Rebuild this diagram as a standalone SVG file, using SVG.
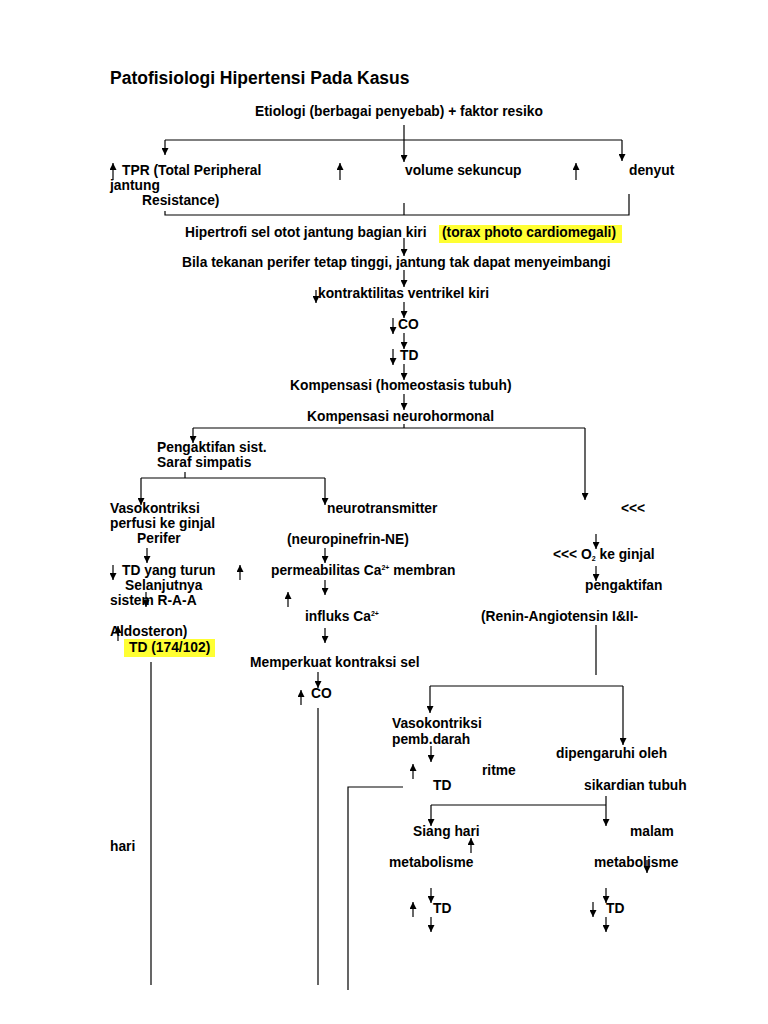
<svg xmlns="http://www.w3.org/2000/svg" width="768" height="1024" viewBox="0 0 768 1024">
<style>
text{font-family:"Liberation Sans",Arial,sans-serif;font-weight:bold;font-size:13.8px;fill:#000}
.t{font-size:17.5px}
line,polyline{stroke:#000;stroke-width:1.2;fill:none}
.a{marker-end:url(#ah)}
.hl{fill:#ffff33}
</style>
<defs><marker id="ah" viewBox="0 0 10 10" refX="10" refY="5" markerWidth="7" markerHeight="7" markerUnits="userSpaceOnUse" orient="auto"><path d="M0,0L10,5L0,10z" fill="#000"/></marker></defs>
<rect width="768" height="1024" fill="#fff"/>
<g id="highlights">
<rect class="hl" x="439" y="225" width="183" height="18"/>
<rect class="hl" x="124" y="639" width="91" height="18"/>
</g>
<g id="texts">
<text class="t" x="110" y="84">Patofisiologi Hipertensi Pada Kasus</text>
<text x="255" y="116">Etiologi (berbagai penyebab) + faktor resiko</text>
<text x="122" y="175">TPR (Total Peripheral</text>
<text x="110" y="190">jantung</text>
<text x="142" y="205">Resistance)</text>
<text x="405" y="175">volume sekuncup</text>
<text x="629" y="175">denyut</text>
<text x="185" y="237">Hipertrofi sel otot jantung bagian kiri</text>
<text x="442" y="237">(torax photo cardiomegali)</text>
<text x="182" y="267">Bila tekanan perifer tetap tinggi, jantung tak dapat menyeimbangi</text>
<text x="318" y="298">kontraktilitas ventrikel kiri</text>
<text x="398" y="329">CO</text>
<text x="400" y="360">TD</text>
<text x="290" y="390">Kompensasi (homeostasis tubuh)</text>
<text x="307" y="421">Kompensasi neurohormonal</text>
<text x="157" y="452">Pengaktifan sist.</text>
<text x="157" y="467">Saraf simpatis</text>
<text x="110" y="513">Vasokontriksi</text>
<text x="110" y="528">perfusi ke ginjal</text>
<text x="137" y="543">Perifer</text>
<text x="327" y="513">neurotransmitter</text>
<text x="287" y="544">(neuropinefrin-NE)</text>
<text x="621" y="513">&lt;&lt;&lt;</text>
<text x="553" y="559">&lt;&lt;&lt; O<tspan font-size="7" dy="2">2</tspan><tspan dy="-2"> ke ginjal</tspan></text>
<text x="122" y="575">TD yang turun</text>
<text x="271" y="575">permeabilitas Ca<tspan font-size="7" dy="-5">2+</tspan><tspan dy="5"> membran</tspan></text>
<text x="585" y="590">pengaktifan</text>
<text x="125" y="590">Selanjutnya</text>
<text x="110" y="605">sistem R-A-A</text>
<text x="305" y="621">influks Ca<tspan font-size="7" dy="-5">2+</tspan></text>
<text x="481" y="621">(Renin-Angiotensin I&amp;II-</text>
<text x="110" y="636">Aldosteron)</text>
<text x="129" y="652">TD (174/102)</text>
<text x="250" y="667">Memperkuat kontraksi sel</text>
<text x="311" y="698">CO</text>
<text x="392" y="728">Vasokontriksi</text>
<text x="392" y="744">pemb.darah</text>
<text x="556" y="758">dipengaruhi oleh</text>
<text x="482" y="775">ritme</text>
<text x="433" y="790">TD</text>
<text x="584" y="790">sikardian tubuh</text>
<text x="413" y="836">Siang hari</text>
<text x="630" y="836">malam</text>
<text x="110" y="851">hari</text>
<text x="389" y="867">metabolisme</text>
<text x="594" y="867">metabolisme</text>
<text x="433" y="913">TD</text>
<text x="606" y="913">TD</text>
</g>
<g id="connectors">
<line class="a" x1="404" y1="125" x2="404" y2="162"/>
<polyline points="165,140 622,140"/>
<line class="a" x1="165" y1="140" x2="165" y2="155"/>
<line class="a" x1="622" y1="140" x2="622" y2="161"/>
<polyline points="165,211 165,215 629,215 629,194"/>
<line x1="404" y1="203" x2="404" y2="215"/>
<line class="a" x1="404" y1="238" x2="404" y2="256"/>
<line class="a" x1="404" y1="270" x2="404" y2="287"/>
<line class="a" x1="404" y1="302" x2="404" y2="318"/>
<line class="a" x1="404" y1="333" x2="404" y2="349"/>
<line class="a" x1="404" y1="364" x2="404" y2="380"/>
<line class="a" x1="404" y1="394" x2="404" y2="410"/>
<polyline points="193,428 585,428"/>
<line x1="404" y1="424" x2="404" y2="428"/>
<line class="a" x1="193" y1="428" x2="193" y2="443"/>
<line class="a" x1="585" y1="428" x2="585" y2="500"/>
<polyline points="141,478 325,478"/>
<line x1="185" y1="472" x2="185" y2="478"/>
<line class="a" x1="141" y1="478" x2="141" y2="505"/>
<line class="a" x1="325" y1="478" x2="325" y2="505"/>
<line class="a" x1="147" y1="548" x2="147" y2="563"/>
<line class="a" x1="325" y1="548" x2="325" y2="563"/>
<line class="a" x1="596" y1="534" x2="596" y2="549"/>
<line class="a" x1="596" y1="566" x2="596" y2="581"/>
<line class="a" x1="325" y1="580" x2="325" y2="595"/>
<line class="a" x1="146" y1="592" x2="146" y2="607"/>
<line class="a" x1="325" y1="628" x2="325" y2="643"/>
<line x1="151" y1="662" x2="151" y2="985"/>
<line x1="596" y1="625" x2="596" y2="675"/>
<line class="a" x1="318" y1="672" x2="318" y2="688"/>
<line x1="318" y1="708" x2="318" y2="985"/>
<polyline points="430,686 623,686"/>
<line class="a" x1="430" y1="686" x2="430" y2="713"/>
<line class="a" x1="623" y1="686" x2="623" y2="745"/>
<line class="a" x1="431" y1="746" x2="431" y2="762"/>
<polyline points="403,787 348,787 348,990"/>
<polyline points="431,805 606,805"/>
<line x1="606" y1="796" x2="606" y2="805"/>
<line class="a" x1="431" y1="805" x2="431" y2="826"/>
<line class="a" x1="606" y1="805" x2="606" y2="826"/>
<line class="a" x1="431" y1="888" x2="431" y2="903"/>
<line class="a" x1="606" y1="888" x2="606" y2="903"/>
<line class="a" x1="431" y1="917" x2="431" y2="932"/>
<line class="a" x1="606" y1="917" x2="606" y2="932"/>
</g>
<g id="updown">
<line class="a" x1="113" y1="180" x2="113" y2="163"/>
<line class="a" x1="340" y1="180" x2="340" y2="163"/>
<line class="a" x1="576" y1="180" x2="576" y2="163"/>
<line class="a" x1="316" y1="290" x2="316" y2="303"/>
<line class="a" x1="393" y1="318" x2="393" y2="334"/>
<line class="a" x1="393" y1="349" x2="393" y2="365"/>
<line class="a" x1="113" y1="565" x2="113" y2="580"/>
<line class="a" x1="240" y1="580" x2="240" y2="565"/>
<line class="a" x1="288" y1="607" x2="288" y2="592"/>
<line class="a" x1="118" y1="641" x2="118" y2="626"/>
<line class="a" x1="301" y1="705" x2="301" y2="690"/>
<line class="a" x1="413" y1="779" x2="413" y2="764"/>
<line class="a" x1="471" y1="853" x2="471" y2="838"/>
<line class="a" x1="647" y1="860" x2="647" y2="873"/>
<line class="a" x1="413" y1="917" x2="413" y2="902"/>
<line class="a" x1="593" y1="902" x2="593" y2="917"/>
</g>
</svg>
